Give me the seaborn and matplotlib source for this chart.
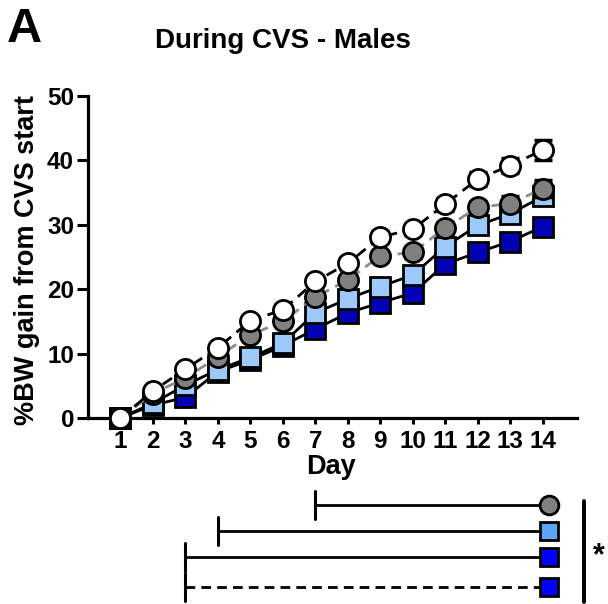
import matplotlib
matplotlib.use("Agg")
import matplotlib.pyplot as plt
import seaborn as sns
import numpy as np
import pandas as pd

# ---- data ----
days = [1, 2, 3, 4, 5, 6, 7, 8, 9, 10, 11, 12, 13, 14]
white_ctrl = [0.0, 4.2, 7.6, 10.9, 15.1, 16.8, 21.2, 24.0, 28.1, 29.3, 33.2, 37.1, 39.2, 41.6]
gray_grp = [0.0, 3.8, 6.2, 9.5, 12.9, 15.0, 18.8, 21.4, 25.2, 25.7, 29.5, 32.7, 33.3, 35.6]
lightblue_grp = [0.0, 2.3, 5.1, 7.5, 9.4, 11.6, 16.3, 18.5, 20.4, 22.2, 26.6, 29.9, 31.7, 34.4]
darkblue_grp = [0.0, 2.0, 3.2, 7.2, 9.0, 11.2, 13.8, 16.3, 17.9, 19.4, 23.9, 25.7, 27.4, 29.7]
white_sem = [0.0, 0.4, 0.5, 0.6, 0.6, 0.7, 0.8, 0.8, 0.9, 0.9, 1.0, 1.1, 1.2, 1.6]
gray_sem = [0.0, 0.4, 0.5, 0.5, 0.6, 0.6, 0.7, 0.7, 0.8, 0.8, 0.9, 1.0, 1.1, 1.3]
lightblue_sem = [0.0, 0.3, 0.4, 0.5, 0.5, 0.6, 0.6, 0.7, 0.7, 0.8, 0.8, 0.9, 0.9, 1.0]
darkblue_sem = [0.0, 0.3, 0.4, 0.4, 0.5, 0.5, 0.6, 0.6, 0.7, 0.7, 0.8, 0.8, 0.9, 0.9]
# first day of significant difference (bottom annotation rows)
sig_start = [7, 4, 3, 3]
y_ticks = [0, 10, 20, 30, 40, 50]

sns.set_theme(style="ticks")
plt.rcParams['font.family'] = ['Liberation Sans', 'DejaVu Sans']
plt.rcParams['font.weight'] = 'bold'
for k in ['text.color', 'axes.labelcolor', 'xtick.color', 'ytick.color', 'axes.edgecolor']:
    plt.rcParams[k] = 'black'

W, H = 608, 604
fig = plt.figure(figsize=(W / 100, H / 100), dpi=100)

ax_l, ax_r, ax_t, ax_b = 88, 577, 96, 418
ax = fig.add_axes([ax_l / W, 1 - ax_b / H, (ax_r - ax_l) / W, (ax_b - ax_t) / H])

ms = 14.5
mew = 2.0
lw = 2.0

series = [
    # (values, sem, marker, face, line color, linestyle, zorder)
    (darkblue_grp, darkblue_sem, 's', '#0000B4', 'black', '-', 3),
    (lightblue_grp, lightblue_sem, 's', '#9CC9F7', 'black', '-', 4),
    (gray_grp, gray_sem, 'o', '#808080', '#8C8C8C', (0, (4, 2.5)), 5),
    (white_ctrl, white_sem, 'o', 'white', 'black', (0, (4, 2.5)), 6),
]

for vals, sem, mk, face, lc, ls, z in series:
    df = pd.DataFrame({"Day": days, "val": vals})
    ax.errorbar(days, vals, yerr=sem, fmt='none', ecolor='black',
                elinewidth=2, capsize=6.5, capthick=2.5, zorder=z - 0.5, clip_on=False)
    sns.lineplot(data=df, x="Day", y="val", ax=ax, color=lc, linestyle=ls,
                 linewidth=lw, marker=mk, markersize=ms, markerfacecolor=face,
                 markeredgecolor='black', markeredgewidth=mew, zorder=z,
                 clip_on=False)

ax.set_xlim(0, 15.06)
ax.set_ylim(0, 50)
ax.set_xticks(days)
ax.set_xticklabels([str(d) for d in days], fontsize=17.5, fontweight='bold')
ax.set_yticks(y_ticks)
ax.set_yticklabels([str(t) for t in y_ticks], fontsize=17.5, fontweight='bold')
ax.tick_params(axis='x', length=4, width=2.2, pad=5)
ax.tick_params(axis='y', length=8, width=2.2, pad=2)
for s in ['top', 'right']:
    ax.spines[s].set_visible(False)
for s in ['left', 'bottom']:
    ax.spines[s].set_linewidth(2.3)
    ax.spines[s].set_color('black')
ax.set_xlabel("Day", fontsize=19.5, fontweight='bold')
ax.set_ylabel("%BW gain from CVS start", fontsize=19.5, fontweight='bold')
ax.xaxis.set_label_coords((331 - ax_l) / (ax_r - ax_l), -(467 - ax_b) / (ax_b - ax_t))
ax.xaxis.label.set_va('center')
ax.yaxis.set_label_coords(-(ax_l - 27) / (ax_r - ax_l), 0.49)
ax.yaxis.label.set_va('center')
ax.grid(False)

fig.text(283 / W, 1 - 41 / H, "During CVS - Males", fontsize=20, fontweight='bold',
         ha='center', va='center')
fig.text(7 / W, 1 - 30 / H, "A", fontsize=35, fontweight='bold', ha='left', va='center')

# ---- bottom significance annotation ----
ax2 = fig.add_axes([ax_l / W, 0, (ax_r - ax_l) / W, 116 / H])
ax2.set_xlim(0, 15.06)
ax2.set_ylim(604, 488)
ax2.axis('off')

rows_y = [505, 531, 557, 587]
leg_face = ['#808080', '#5AA5F5', '#0000FF', '#0000FF']
leg_marker = ['o', 's', 's', 's']
leg_ls = ['-', '-', '-', (0, (3.5, 2.2))]
x_end = 14.2
for sd, yy, fc, mk, ls in zip(sig_start, rows_y, leg_face, leg_marker, leg_ls):
    ax2.plot([sd, x_end], [yy, yy], color='black', lw=2, linestyle=ls, zorder=2, clip_on=False)
    ax2.plot([sd, sd], [yy - 14, yy + 14], color='black', lw=2.2, zorder=2, clip_on=False)
    ax2.plot([x_end], [yy], marker=mk, markersize=13.5, markerfacecolor=fc,
             markeredgecolor='black', markeredgewidth=2, zorder=3, clip_on=False)

ax2.plot([15.29, 15.29], [501, 602], color='black', lw=2.8, clip_on=False)
ax2.text(15.72, 556, "*", fontsize=22, fontweight='bold', ha='center', va='center')

fig.savefig("out.png", dpi=100)
